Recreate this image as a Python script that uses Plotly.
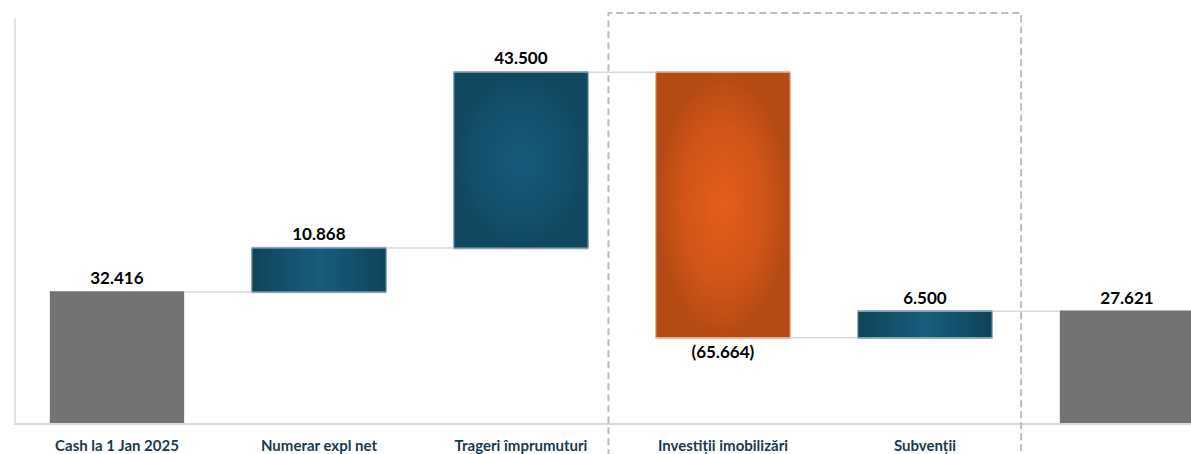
import plotly.graph_objects as go

# Cash-flow bridge for 2025 (values in thousands)
categories = [
    "Cash la 1 Jan 2025",
    "Numerar expl net",
    "Trageri împrumuturi",
    "Investiții imobilizări",
    "Subvenții",
    "Cash la 31 Dec 2025",
]
values = [32416, 10868, 43500, -65664, 6500, 27621]
measures = ["absolute", "relative", "relative", "relative", "relative", "absolute"]


def fmt(v):
    s = f"{abs(v):,}".replace(",", ".")
    return f"({s})" if v < 0 else s


labels = [fmt(v) for v in values]
xs = list(range(len(categories)))

GAP = 0.335
BAR_W = 1 - GAP

BLUE_RADIAL = [[0, "#165b7a"], [0.7, "#134f6b"], [1, "#114760"]]
BLUE_ACROSS = [[0, "#10435a"], [0.5, "#175d7c"], [1, "#10435a"]]
ORANGE_RADIAL = [[0, "#e55d19"], [0.6, "#d05518"], [1, "#b44a14"]]

fig = go.Figure()

fig.add_trace(go.Waterfall(
    x=xs,
    y=values,
    measure=measures,
    text=labels,
    textposition="outside",
    textfont=dict(family="Lato", size=17, color="#000000", weight="bold"),
    cliponaxis=False,
    increasing=dict(marker=dict(color="#14546f", line=dict(color="#8fb0c2", width=1))),
    decreasing=dict(marker=dict(color="#cf5318", line=dict(color="#eeb99c", width=1))),
    totals=dict(marker=dict(color="#737373", line=dict(color="#737373", width=0))),
    connector=dict(mode="between", line=dict(color="#d9d9d9", width=1.5)),
    hoverinfo="skip",
    showlegend=False,
))

# Shading on the change bars, built from the running total:
# tall bars get a radial glow, flat bars a left-to-right sheen
running = 0
for i, (v, m) in enumerate(zip(values, measures)):
    if m == "absolute":
        running = v
        continue
    lo, hi = sorted((running, running + v))
    running += v
    x0, x1 = i - BAR_W / 2, i + BAR_W / 2
    if v < 0:
        grad = dict(type="radial", colorscale=ORANGE_RADIAL)
    elif abs(v) > 20000:
        grad = dict(type="radial", colorscale=BLUE_RADIAL)
    else:
        grad = dict(type="horizontal", colorscale=BLUE_ACROSS)
    fig.add_trace(go.Scatter(
        x=[x0, x1, x1, x0, x0],
        y=[lo, lo, hi, hi, lo],
        mode="lines",
        fill="toself",
        fillgradient=grad,
        line=dict(color="#eeb99c" if v < 0 else "#8fb0c2", width=1),
        hoverinfo="skip",
        showlegend=False,
    ))

# Dashed frame around the investment items
fig.add_shape(
    type="rect",
    xref="x", yref="paper",
    x0=2.433, x1=4.476, y0=-0.3, y1=1.0123,
    line=dict(color="#bdbdbd", width=2, dash="7px,4px"),
    fillcolor="rgba(0,0,0,0)",
    layer="above",
)

fig.update_layout(
    width=1191,
    height=454,
    margin=dict(l=16, r=0, t=18, b=31),
    paper_bgcolor="#ffffff",
    plot_bgcolor="#ffffff",
    waterfallgap=GAP,
    showlegend=False,
    xaxis=dict(
        range=[-0.5, 5.317],
        tickmode="array",
        tickvals=xs,
        ticktext=categories,
        tickfont=dict(family="Lato", size=15, color="#1a3a4f", weight="bold"),
        ticks="",
        ticklabelstandoff=8,
        showgrid=False,
        zeroline=False,
        showline=True,
        linecolor="#d9d9d9",
        linewidth=2,
        fixedrange=True,
    ),
    yaxis=dict(
        range=[0, 100200],
        showticklabels=False,
        ticks="",
        showgrid=False,
        zeroline=False,
        showline=True,
        linecolor="#e3e3e3",
        linewidth=2,
        fixedrange=True,
    ),
)

fig.write_html("out.html")
